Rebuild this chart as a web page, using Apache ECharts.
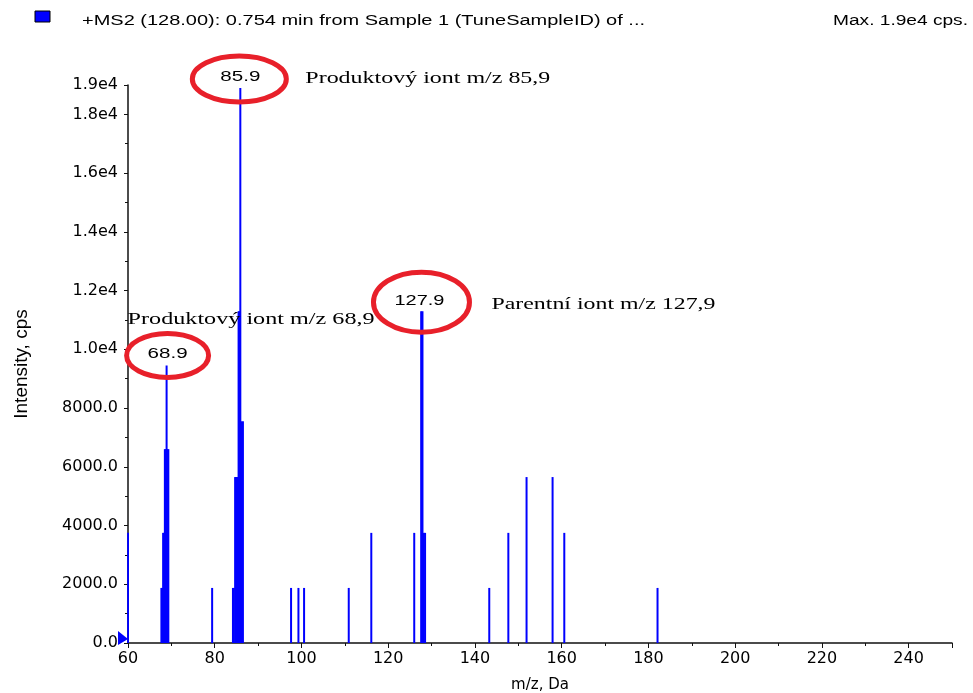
<!DOCTYPE html>
<html><head><meta charset="utf-8">
<script src="https://cdn.jsdelivr.net/npm/echarts@6/dist/echarts.min.js"></script>
<style>html,body{margin:0;padding:0;background:#fff}#c{width:973px;height:693px}</style>
</head><body><div id="c"></div>
<script>
// m/z of each stick and its intensity (cps)
const mz = [60.0,
  67.7, 67.9, 68.1, 68.3, 68.5, 68.7, 68.9, 69.1, 69.3,
  79.4,
  84.2, 84.4, 84.7, 84.9, 85.1, 85.3, 85.5, 85.7, 85.9, 86.1, 86.5,
  97.6, 99.3, 100.6, 110.9, 116.1,
  126.0, 127.6, 127.9, 128.2, 128.5,
  143.3, 147.7, 151.9, 157.9, 160.6, 182.1];
const intensity = [3750,
  1875, 1875, 3750, 3750, 6600, 6600, 9450, 6600, 6600,
  1875,
  1875, 1875, 5650, 5650, 5650, 5650, 11300, 11300, 18900, 7550, 7550,
  1875, 1875, 1875, 1875, 3750,
  3750, 11300, 11300, 3750, 3750,
  1875, 3750, 5650, 5650, 3750, 1875];

const peakMz = [68.9, 85.9, 127.9];
const peakText = ['68.9', '85.9', '127.9'];
const noteText = ['Produktový iont m/z 68,9', 'Produktový iont m/z 85,9', 'Parentní iont m/z 127,9'];
const headerText = '+MS2 (128.00): 0.754 min from Sample 1 (TuneSampleID) of ...';
const maxText = 'Max. 1.9e4 cps.';
const xName = 'm/z, Da';
const yName = 'Intensity, cps';

const data = mz.map((m, i) => [m, intensity[i]]);

const chart = echarts.init(document.getElementById('c'));
const axisCol = '#111';
chart.setOption({
  animation: false,
  backgroundColor: '#fff',
  grid: {left: 128, right: 21, top: 85, bottom: 50, containLabel: false, outerBoundsMode: 'none'},
  xAxis: {
    type: 'value', min: 60, max: 250, interval: 20,
    name: xName, nameLocation: 'middle', nameGap: 35,
    nameTextStyle: {fontFamily: 'DejaVu Sans', fontSize: 15, color: '#000'},
    axisLine: {show: true, onZero: false, lineStyle: {color: axisCol, width: 1.5}},
    axisTick: {show: true, length: 5, lineStyle: {color: axisCol}},
    minorTick: {show: true, splitNumber: 2, length: 3, lineStyle: {color: axisCol}},
    splitLine: {show: false},
    axisLabel: {fontFamily: 'DejaVu Sans', fontSize: 16, color: '#000', margin: 8,
      showMaxLabel: false,
      formatter: v => (v >= 250 ? '' : String(v))}
  },
  yAxis: {
    type: 'value', min: 0, max: 19000, interval: 2000,
    name: yName, nameLocation: 'middle', nameGap: 97, nameRotate: 90,
    nameTextStyle: {fontFamily: 'Liberation Sans', fontSize: 19, color: '#000'},
    axisLine: {show: true, onZero: false, lineStyle: {color: axisCol, width: 1.5}},
    axisTick: {show: true, length: 4, lineStyle: {color: axisCol}},
    minorTick: {show: true, splitNumber: 2, length: 3, lineStyle: {color: axisCol}},
    splitLine: {show: false},
    axisLabel: {fontFamily: 'DejaVu Sans', fontSize: 16, color: '#000', margin: 10,
      showMaxLabel: true,
      formatter: v => (v >= 10000 ? (v / 10000).toFixed(1) + 'e4' : v.toFixed(1))}
  },
  series: [{
    type: 'bar', data: data, barWidth: 2,
    itemStyle: {color: '#0000ff'},
    emphasis: {disabled: true}, silent: true
  }]
});

// text width helper for horizontally stretched text
const ctx = document.createElement('canvas').getContext('2d');
function stretch(text, font, target) {
  ctx.font = font;
  return target / ctx.measureText(text).width;
}

const sansFont = '14px "Liberation Sans"';
const serifFont = '17px "Liberation Serif"';
const g = [];
// header
g.push({type: 'rect', shape: {x: 35, y: 11, width: 15, height: 11},
  style: {fill: '#0000ff', stroke: '#000', lineWidth: 1}, z: 100});
g.push({type: 'text', x: 82, y: 21, scaleX: stretch(headerText, sansFont, 563), z: 100,
  style: {text: headerText, font: sansFont, fill: '#000', align: 'left', verticalAlign: 'middle'}});
g.push({type: 'text', x: 833, y: 21, scaleX: stretch(maxText, sansFont, 135), z: 100,
  style: {text: maxText, font: sansFont, fill: '#000', align: 'left', verticalAlign: 'middle'}});

// annotation layout (offsets from each labelled peak top)
const ell = [{dx: 1, dy: -10, rx: 41, ry: 22}, {dx: -1, dy: -9, rx: 47, ry: 23}, {dx: -1, dy: -9, rx: 48, ry: 30}];
const lab = [{dx: 1, dy: -11}, {dx: 0, dy: -11}, {dx: -3, dy: -10}];
const note = [{dx: -39, dy: -46, w: 247}, {dx: 65, dy: -9, w: 245}, {dx: 69, dy: -7, w: 224}];
peakMz.forEach((m, i) => {
  const idx = mz.indexOf(m);
  const p = chart.convertToPixel({xAxisIndex: 0, yAxisIndex: 0}, [m, intensity[idx]]);
  g.push({type: 'ellipse', z: 100,
    shape: {cx: p[0] + ell[i].dx, cy: p[1] + ell[i].dy, rx: ell[i].rx, ry: ell[i].ry},
    style: {fill: 'none', stroke: '#e8202a', lineWidth: 5}});
  g.push({type: 'text', z: 101, x: p[0] + lab[i].dx, y: p[1] + lab[i].dy,
    scaleX: stretch(peakText[i], sansFont, peakText[i].length * 10),
    style: {text: peakText[i], font: sansFont, fill: '#000', align: 'center', verticalAlign: 'middle'}});
  g.push({type: 'text', z: 101, x: p[0] + note[i].dx, y: p[1] + note[i].dy,
    scaleX: stretch(noteText[i], serifFont, note[i].w),
    style: {text: noteText[i], font: serifFont, fill: '#000', align: 'left', verticalAlign: 'middle'}});
});
// origin marker
const o = chart.convertToPixel({xAxisIndex: 0, yAxisIndex: 0}, [60, 0]);
g.push({type: 'polygon', z: 100, shape: {points: [[o[0] - 10, o[1] - 12], [o[0] - 10, o[1] + 2], [o[0], o[1] - 4]]},
  style: {fill: '#0000ff'}});

chart.setOption({graphic: g});
</script>
</body></html>
